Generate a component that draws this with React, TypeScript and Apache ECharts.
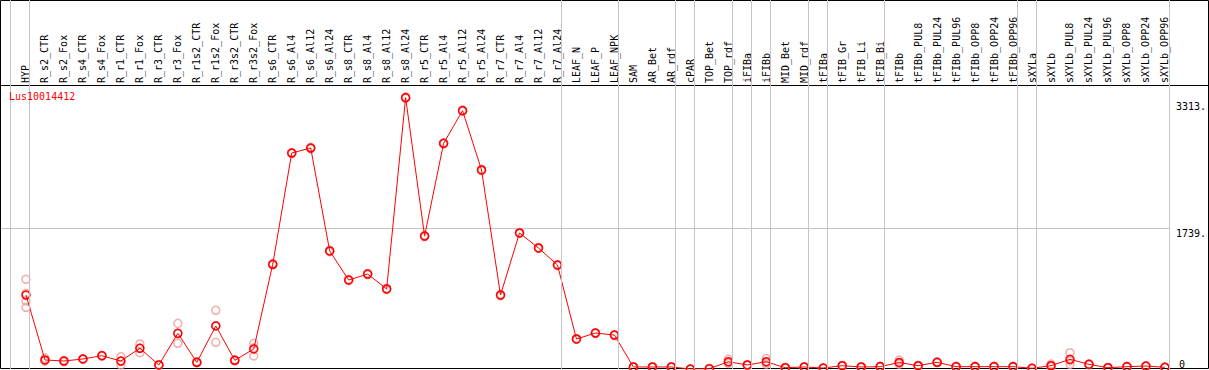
import React, { useEffect, useRef } from 'react';
import * as echarts from 'echarts';

const geneName = 'Lus10014412';

const categories = [
  'HYP',
  'R_s2_CTR', 'R_s2_Fox', 'R_s4_CTR', 'R_s4_Fox', 'R_r1_CTR', 'R_r1_Fox', 'R_r3_CTR', 'R_r3_Fox',
  'R_r1s2_CTR', 'R_r1s2_Fox', 'R_r3s2_CTR', 'R_r3s2_Fox',
  'R_s6_CTR', 'R_s6_Al4', 'R_s6_Al12', 'R_s6_Al24',
  'R_s8_CTR', 'R_s8_Al4', 'R_s8_Al12', 'R_s8_Al24',
  'R_r5_CTR', 'R_r5_Al4', 'R_r5_Al12', 'R_r5_Al24',
  'R_r7_CTR', 'R_r7_Al4', 'R_r7_Al12', 'R_r7_Al24',
  'LEAF_N', 'LEAF_P', 'LEAF_NPK',
  'SAM', 'AR_Bet', 'AR_rdf',
  'cPAR',
  'TOP_Bet', 'TOP_rdf',
  'iFIBa',
  'iFIBb',
  'MID_Bet', 'MID_rdf',
  'tFIBa',
  'tFIB_Gr', 'tFIB_Li', 'tFIB_Bi',
  'tFIBb', 'tFIBb_PUL8', 'tFIBb_PUL24', 'tFIBb_PUL96', 'tFIBb_OPP8', 'tFIBb_OPP24', 'tFIBb_OPP96',
  'sXYLa',
  'sXYLb', 'sXYLb_PUL8', 'sXYLb_PUL24', 'sXYLb_PUL96', 'sXYLb_OPP8', 'sXYLb_OPP24', 'sXYLb_OPP96',
];

// sizes of the tissue groups, separated by grey vertical lines
const groupSizes = [1, 28, 3, 3, 1, 2, 1, 1, 2, 1, 3, 7, 1, 7];

const meanValues = [
  917,
  112, 99, 124, 165, 99, 257, 50, 442,
  83, 533, 108, 248,
  1298, 2677, 2739, 1463,
  1103, 1177, 992, 3363,
  1648, 2797, 3202, 2467,
  917, 1686, 1500, 1289,
  372, 446, 421,
  25, 25, 25,
  0,
  4, 90,
  50,
  90,
  16, 25,
  12,
  41, 25, 29,
  81, 41, 83, 29, 29, 29, 29,
  9,
  41, 120, 58, 16, 29, 37, 21,
];

const replicates = [
  [1112, 938, 843, 765],
  [135, 100, 101], [99, 90, 108], [124, 118, 130], [165, 160, 170],
  [152, 50, 95], [310, 202, 259], [50, 45, 55], [566, 319, 441],
  [83, 75, 91], [728, 331, 540], [108, 100, 116], [319, 161, 264],
  [1298, 1290, 1306], [2677, 2670, 2684], [2739, 2730, 2748], [1463, 1455, 1471],
  [1103, 1095, 1111], [1177, 1170, 1184], [992, 985, 999], [3363, 3355, 3371],
  [1648, 1640, 1656], [2797, 2790, 2804], [3202, 3195, 3209], [2467, 2460, 2474],
  [917, 910, 924], [1686, 1680, 1692], [1500, 1494, 1506], [1289, 1282, 1296],
  [372, 366, 378], [446, 440, 452], [421, 415, 427],
  [25, 22, 28], [25, 22, 28], [25, 22, 28],
  [0, 0, 0],
  [4, 2, 6], [120, 70, 80],
  [50, 45, 55],
  [130, 60, 80],
  [16, 12, 20], [25, 22, 28],
  [12, 10, 14],
  [41, 36, 46], [25, 22, 28], [29, 25, 33],
  [110, 60, 73], [41, 36, 46], [83, 78, 88], [29, 25, 33], [29, 25, 33], [29, 25, 33], [29, 25, 33],
  [9, 7, 11],
  [60, 30, 33], [202, 58, 100], [58, 52, 64], [16, 12, 20], [29, 25, 33], [37, 33, 41], [21, 18, 24],
];

const yLabelValues = [1739, 3313];
const yGridValues = [1739];
const yZeroLabel = [0];
const yMax = 3520;

const FONT = "'DejaVu Sans Mono', 'Liberation Mono', monospace";

export default function App() {
  const ref = useRef<HTMLDivElement>(null);

  useEffect(() => {
    if (!ref.current) return;
    const chart = echarts.init(ref.current, undefined, { renderer: 'svg' });

    const n = categories.length;
    const xMin = -25 / 19;
    const xMax = 1144 / 19;

    const boundaries: number[] = [0];
    groupSizes.reduce((acc, s) => {
      boundaries.push(acc + s);
      return acc + s;
    }, 0);

    const lineData = meanValues.map((v, i) => [i, v]);
    const repData: number[][] = [];
    replicates.forEach((r, i) => r.forEach((v) => repData.push([i, v])));

    chart.setOption({
      animation: false,
      title: {
        text: geneName,
        left: 9,
        top: 91,
        padding: 0,
        textStyle: { color: '#ff0000', fontSize: 10, fontFamily: FONT, fontWeight: 'normal' },
      },
      graphic: [
        {
          type: 'rect',
          z: -10,
          shape: { x: 0.5, y: 0.5, width: 1208, height: 368 },
          style: { fill: 'none', stroke: '#000', lineWidth: 1 },
          silent: true,
        },
        {
          type: 'line',
          z: -10,
          shape: { x1: 0, y1: 85.5, x2: 1209, y2: 85.5 },
          style: { stroke: '#000', lineWidth: 1 },
          silent: true,
        },
      ],
      grid: [
        { left: 1, right: 39, top: 85, bottom: 1, containLabel: false },
        { left: 1, right: 39, top: 0, bottom: 1, containLabel: false },
      ],
      xAxis: [
        {
          type: 'value',
          gridIndex: 0,
          position: 'top',
          min: xMin,
          max: xMax,
          axisLine: { show: false },
          axisTick: { show: false },
          splitLine: { show: false },
          axisLabel: {
            customValues: categories.map((_, i) => i),
            formatter: (v: number) => categories[Math.round(v)] ?? '',
            rotate: 90,
            margin: 2,
            fontSize: 10,
            fontFamily: FONT,
            color: '#000',
          },
        },
        {
          type: 'value',
          gridIndex: 1,
          min: xMin,
          max: xMax,
          show: false,
        },
      ],
      yAxis: [
        {
          type: 'value',
          gridIndex: 0,
          position: 'right',
          min: 0,
          max: yMax,
          axisLine: { show: false },
          axisTick: { show: false },
          splitLine: { show: false },
          axisLabel: {
            customValues: yLabelValues,
            formatter: (v: number) => `${v}.`,
            verticalAlign: 'top',
            align: 'left',
            margin: 7,
            fontSize: 10,
            fontFamily: FONT,
            color: '#000',
          },
        },
        {
          type: 'value',
          gridIndex: 1,
          position: 'right',
          min: 0,
          max: 1,
          axisLine: { show: false },
          axisTick: { show: false },
          splitLine: { show: false },
          axisLabel: {
            customValues: yZeroLabel,
            formatter: (v: number) => `${v}`,
            verticalAlign: 'bottom',
            align: 'left',
            margin: 9,
            fontSize: 10,
            fontFamily: FONT,
            color: '#000',
          },
        },
      ],
      series: [
        {
          type: 'line',
          xAxisIndex: 1,
          yAxisIndex: 1,
          data: [],
          silent: true,
          markLine: {
            silent: true,
            symbol: 'none',
            label: { show: false },
            lineStyle: { color: '#c4c4c4', type: 'solid', width: 1 },
            data: boundaries.map((b) => ({ xAxis: b - 15.5 / 19 })),
          },
        },
        {
          type: 'scatter',
          xAxisIndex: 0,
          yAxisIndex: 0,
          data: repData,
          symbol: 'circle',
          symbolSize: 8,
          itemStyle: { color: 'rgba(0,0,0,0)', borderColor: '#f09a9a', borderWidth: 1.5 },
          z: 3,
        },
        {
          type: 'line',
          xAxisIndex: 0,
          yAxisIndex: 0,
          data: lineData,
          symbol: 'circle',
          symbolSize: 8,
          showAllSymbol: true,
          lineStyle: { color: '#ff0000', width: 1 },
          itemStyle: { color: 'rgba(0,0,0,0)', borderColor: '#ff0000', borderWidth: 1.5 },
          z: 4,
          markLine: {
            silent: true,
            symbol: 'none',
            label: { show: false },
            lineStyle: { color: '#c4c4c4', type: 'solid', width: 1 },
            data: yGridValues.map((v) => ({ yAxis: v })),
            z: 1,
          },
        },
      ],
    });

    return () => chart.dispose();
  }, []);

  return (
    <div
      ref={ref}
      style={{ position: 'fixed', left: 0, top: 0, width: 1209, height: 370, background: '#fff' }}
    />
  );
}
